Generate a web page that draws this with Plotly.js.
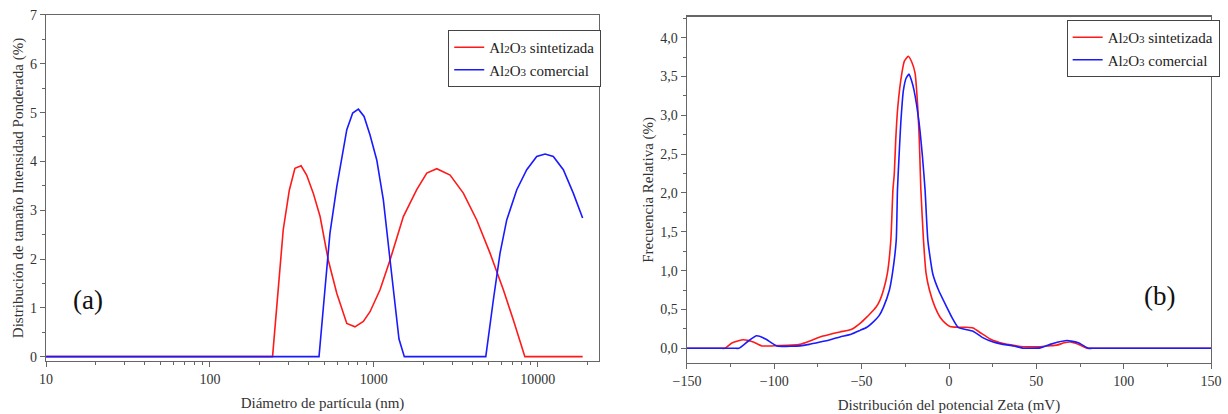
<!DOCTYPE html>
<html>
<head>
<meta charset="utf-8">
<script src="https://cdn.plot.ly/plotly-3.0.1.min.js"></script>
<style>html,body{margin:0;padding:0;background:#fff}#chart{width:1228px;height:414px}</style>
</head>
<body>
<div id="chart"></div>
<script>
// ---- Panel (a): size distribution ----
const sizeSintX = [10, 241, 280, 305, 330, 360, 389, 427, 470, 527, 594, 684, 767, 863, 948, 1091, 1256, 1514, 1827, 2104, 2421, 2919, 3517, 4245, 5117, 6170, 7100, 7800, 8350, 18800];
const sizeSintY = [0, 0, 2.6, 3.41, 3.86, 3.91, 3.72, 3.35, 2.87, 1.98, 1.30, 0.68, 0.61, 0.72, 0.92, 1.37, 1.98, 2.87, 3.42, 3.76, 3.85, 3.72, 3.35, 2.80, 2.12, 1.37, 0.75, 0.31, 0, 0];
const sizeComX = [10, 463, 503, 540, 594, 637, 684, 743, 805, 872, 948, 1042, 1143, 1256, 1347, 1424, 1535, 4820, 5360, 5890, 6470, 7450, 8570, 9860, 11090, 12450, 14330, 16480, 18790];
const sizeComY = [0, 0, 1.37, 2.53, 3.48, 4.10, 4.65, 4.99, 5.07, 4.92, 4.54, 4.03, 3.21, 1.98, 1.02, 0.36, 0, 0, 1.16, 2.12, 2.80, 3.42, 3.83, 4.10, 4.15, 4.10, 3.83, 3.35, 2.84];
const sizeTickVals = [10, 100, 1000, 10000];
const sizeTickText = ['10', '100', '1000', '10000'];

// ---- Panel (b): zeta potential distribution ----
const zetaSintX = [-150, -145, -140, -135, -131, -128.2, -124, -117.7, -112, -107.2, -98, -90, -85.3, -80, -73.8, -68, -62.4, -56, -50.9, -47.1, -43.3, -41.7, -39.5, -37.5, -35.3, -33.3, -32.1, -31.3, -30.5, -29.3, -27.0, -25.5, -23.3, -21.2, -19.4, -17.9, -17.0, -16.4, -16.1, -14.6, -13.1, -11.2, -8.0, -5.1, -2, 0.6, 5, 10, 13.8, 18, 23.5, 31.2, 36, 42.6, 52.2, 57, 61.7, 66, 69.4, 74, 78.9, 82, 86, 95, 110, 125, 140, 150];
const zetaSintY = [0, 0, 0, 0, 0, 0, 0.07, 0.11, 0.08, 0.03, 0.035, 0.04, 0.05, 0.09, 0.146, 0.18, 0.21, 0.24, 0.32, 0.40, 0.49, 0.53, 0.62, 0.75, 0.96, 1.39, 2.04, 2.25, 2.68, 3.11, 3.54, 3.70, 3.76, 3.68, 3.54, 3.11, 2.68, 2.25, 2.04, 1.39, 0.96, 0.75, 0.53, 0.40, 0.32, 0.28, 0.27, 0.27, 0.26, 0.20, 0.12, 0.06, 0.04, 0.02, 0.02, 0.03, 0.04, 0.07, 0.08, 0.05, 0, 0, 0, 0, 0, 0, 0, 0];
const zetaComX = [-150, -145, -140, -134, -128, -123, -120.2, -115, -110.1, -105, -98.6, -90, -85.3, -80, -73.8, -68, -62.4, -56, -50.9, -47, -43.3, -40, -37.5, -34.1, -32.4, -30.2, -29.5, -28.6, -27.6, -26.1, -24.5, -22.9, -21.5, -20.0, -17.1, -15.2, -13.7, -12.1, -9.3, -6.0, -1.3, 1.6, 5.2, 13.8, 19, 25.3, 31, 37, 42.6, 47, 52.2, 57.9, 62.5, 67.5, 74, 79.8, 83, 87, 95, 110, 125, 140, 150];
const zetaComY = [0, 0, 0, 0, 0, 0, 0, 0.09, 0.16, 0.12, 0.03, 0.025, 0.03, 0.05, 0.08, 0.11, 0.146, 0.18, 0.23, 0.27, 0.34, 0.42, 0.53, 0.75, 0.96, 1.39, 2.04, 2.47, 2.90, 3.32, 3.48, 3.53, 3.45, 3.32, 2.90, 2.47, 2.04, 1.39, 0.96, 0.75, 0.53, 0.40, 0.27, 0.22, 0.14, 0.08, 0.05, 0.03, 0.0, 0.0, 0.005, 0.05, 0.08, 0.10, 0.07, 0, 0, 0, 0, 0, 0, 0, 0];

const SUB = (d) => '<span style="font-size:11px">' + d + '</span>';
const nameSint = 'Al' + SUB('2') + 'O' + SUB('3') + ' sintetizada';
const nameCom = 'Al' + SUB('2') + 'O' + SUB('3') + ' comercial';

const RED = '#ff1a1a', BLUE = '#1a1aff';
const FONT = 'Liberation Serif, Times New Roman, serif';
const lineW = 1.6;

const traces = [
  {x: sizeSintX, y: sizeSintY, name: nameSint, mode: 'lines', line: {color: RED, width: lineW}, xaxis: 'x', yaxis: 'y', legend: 'legend'},
  {x: sizeComX, y: sizeComY, name: nameCom, mode: 'lines', line: {color: BLUE, width: lineW}, xaxis: 'x', yaxis: 'y', legend: 'legend'},
  {x: zetaSintX, y: zetaSintY, name: nameSint, mode: 'lines', line: {color: RED, width: lineW, shape: 'spline', smoothing: 0.5}, xaxis: 'x2', yaxis: 'y2', legend: 'legend2'},
  {x: zetaComX, y: zetaComY, name: nameCom, mode: 'lines', line: {color: BLUE, width: lineW, shape: 'spline', smoothing: 0.5}, xaxis: 'x2', yaxis: 'y2', legend: 'legend2'}
];

const axBase = {
  showline: true, mirror: true, linecolor: '#666', linewidth: 1.3,
  ticks: 'outside', ticklen: 5, tickwidth: 1, tickcolor: '#666',
  showgrid: false, zeroline: false,
  tickfont: {family: FONT, size: 14, color: '#333'},
  automargin: false
};
const titleFont = {family: FONT, size: 15, color: '#333'};
const legendBase = {
  bgcolor: '#fff', bordercolor: '#444', borderwidth: 1,
  font: {family: FONT, size: 15, color: '#222'},
  xanchor: 'left', yanchor: 'top', itemwidth: 30, tracegroupgap: 0
};

const layout = {
  width: 1228, height: 414,
  margin: {l: 0, r: 0, t: 0, b: 0},
  paper_bgcolor: '#fff', plot_bgcolor: '#fff',
  separators: ',.',
  showlegend: true,
  xaxis: Object.assign({}, axBase, {
    domain: [0.0375, 0.4878], type: 'log', range: [1, 4.374],
    tickvals: sizeTickVals, ticktext: sizeTickText,
    minor: {dtick: 'D1', ticks: 'outside', ticklen: 3, tickcolor: '#666', showgrid: false},
    title: {text: 'Diámetro de partícula (nm)', font: titleFont, standoff: 11},
    anchor: 'y'
  }),
  yaxis: Object.assign({}, axBase, {
    domain: [0.128, 0.9638], range: [-0.09, 7], dtick: 1,
    minor: {dtick: 0.5, ticks: 'outside', ticklen: 3, tickcolor: '#666', showgrid: false},
    title: {text: 'Distribución de tamaño Intensidad Ponderada (%)', font: titleFont, standoff: 2},
    anchor: 'x'
  }),
  xaxis2: Object.assign({}, axBase, {
    domain: [0.5594, 0.9862], range: [-150, 150], dtick: 50,
    minor: {dtick: 25, ticks: 'outside', ticklen: 3, tickcolor: '#666', showgrid: false},
    title: {text: 'Distribución del potencial Zeta (mV)', font: titleFont, standoff: 11},
    anchor: 'y2'
  }),
  yaxis2: Object.assign({}, axBase, {
    domain: [0.1232, 0.9597], range: [-0.19, 4.27], dtick: 0.5, tickformat: '.1f',
    minor: {dtick: 0.25, ticks: 'outside', ticklen: 3, tickcolor: '#666', showgrid: false},
    title: {text: 'Frecuencia Relativa (%)', font: titleFont, standoff: 3},
    anchor: 'x2'
  }),
  legend: Object.assign({}, legendBase, {x: 0.365, y: 0.9275}),
  legend2: Object.assign({}, legendBase, {x: 0.8686, y: 0.9517}),
  annotations: [
    {text: '(a)', xref: 'paper', yref: 'paper', x: 0.0717, y: 0.2755, xanchor: 'center', yanchor: 'middle', showarrow: false, font: {family: FONT, size: 27, color: '#111'}},
    {text: '(b)', xref: 'paper', yref: 'paper', x: 0.9446, y: 0.285, xanchor: 'center', yanchor: 'middle', showarrow: false, font: {family: FONT, size: 27, color: '#111'}}
  ]
};

Plotly.newPlot('chart', traces, layout, {staticPlot: true, displayModeBar: false});
</script>
</body>
</html>
